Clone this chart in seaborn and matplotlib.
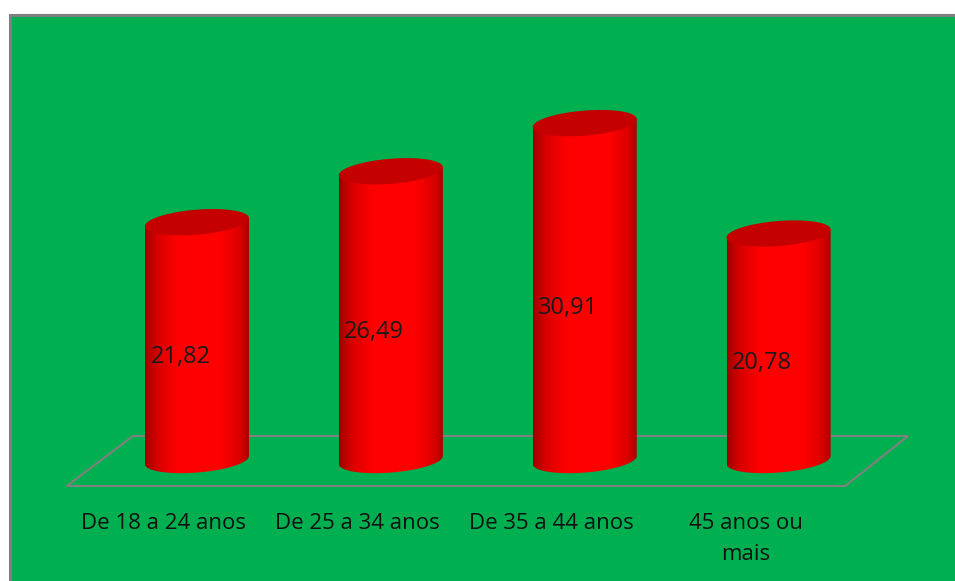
import numpy as np
import pandas as pd
import matplotlib
matplotlib.use("Agg")
import matplotlib.pyplot as plt
import seaborn as sns
from matplotlib.path import Path
from matplotlib.patches import Polygon, PathPatch, Rectangle
from matplotlib.colors import LinearSegmentedColormap

# data
categories = ["De 18 a 24 anos", "De 25 a 34 anos", "De 35 a 44 anos", "45 anos ou\nmais"]
values = [21.82, 26.49, 30.91, 20.78]
value_labels = ["21,82", "26,49", "30,91", "20,78"]

GREEN = "#00B050"
TOP_RED = "#C40000"
FRAME = "#808080"

sns.set_theme(style="white")
plt.rcParams['font.family'] = ['Open Sans', 'DejaVu Sans']

fig = plt.figure(figsize=(9.55, 5.81), dpi=100)
fig.patch.set_facecolor("white")
# green chart area with grey frame (cut off at right / bottom)
fig.add_artist(Rectangle((9.5 / 955, -0.05), 1.1, (581 - 14.5) / 581 + 0.05,
                         transform=fig.transFigure, facecolor=GREEN,
                         edgecolor=FRAME, linewidth=2.2, zorder=0))

ax = fig.add_axes([51.5 / 955, 0.1332, 872.5 / 955, 0.7129])
ax.set_facecolor("none")

df = pd.DataFrame({"faixa": categories, "pct": values})
sns.barplot(data=df, x="faixa", y="pct", width=0.537, color="#FF0000",
            saturation=1, ax=ax, zorder=3)

# shading across a cylinder
cyl_cmap = LinearSegmentedColormap.from_list("cyl", [
    (0.0, "#A00000"), (0.12, "#D80000"), (0.32, "#FF0000"),
    (0.72, "#FF0000"), (0.9, "#DC0000"), (1.0, "#A80000")])
grad = np.linspace(0, 1, 256).reshape(1, -1)

b = 1.15      # half height of the ellipses (data units)
k = 1.37      # slant of the ellipses
t = np.linspace(0, 2 * np.pi, 200)

for p, v in zip(ax.patches, values):
    x0, w = p.get_x(), p.get_width()
    a = w / 2
    cx = x0 + a
    p.set_visible(False)

    # body outline: sides + lower half of bottom ellipse
    tb = np.linspace(np.pi, 2 * np.pi, 100)
    bx = cx + a * np.cos(tb)
    by = b * np.sin(tb) + k * (bx - cx)
    verts = [(cx - a, v - k * a)] + list(zip(bx, by)) + [(cx + a, v + k * a), (cx - a, v - k * a)]
    body = PathPatch(Path(verts), transform=ax.transData, facecolor="none", edgecolor="none")
    im = ax.imshow(grad, extent=[cx - a, cx + a, -b - k * a - 0.5, v + k * a + 0.5],
                   cmap=cyl_cmap, aspect="auto", zorder=4, interpolation="bilinear")
    im.set_clip_path(body)

    # top ellipse
    ex = cx + a * np.cos(t)
    ey = v + b * np.sin(t) + k * (ex - cx)
    ax.add_patch(Polygon(np.column_stack([ex, ey]), closed=True,
                         facecolor=TOP_RED, edgecolor="none", zorder=5))

# floor of the 3D plot
floor = [(-0.671, -2.385), (3.343, -2.385), (3.668, 2.2), (-0.330, 2.2)]
ax.add_patch(Polygon(floor, closed=True, fill=False, edgecolor=FRAME,
                     linewidth=1.5, zorder=2))

for i, (v, lab) in enumerate(zip(values, value_labels)):
    ax.text(i - 0.085, v / 2 - 1.5, lab, ha="center", va="center",
            fontsize=17, color="#1a1a1a", zorder=6)

ax.set_xlim(-0.75, 3.75)
ax.set_ylim(-4, 34)
ax.set_xticks(np.arange(len(categories)) - 0.17)
ax.set_xticklabels(categories, fontsize=16, color="#111111", linespacing=1.62)
ax.tick_params(axis="x", length=0, pad=6.5)
ax.set_yticks([])
ax.set_xlabel("")
ax.set_ylabel("")
for s in ax.spines.values():
    s.set_visible(False)

fig.savefig("out.png", dpi=100)
